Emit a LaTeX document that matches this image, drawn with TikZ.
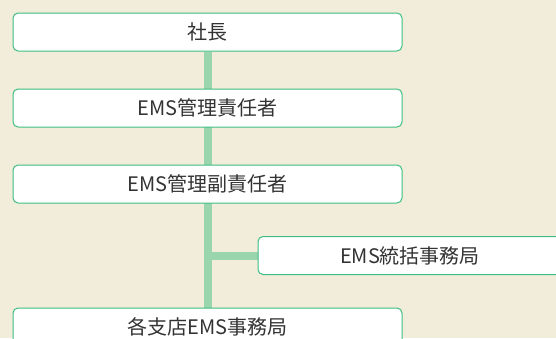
\documentclass[tikz,border=0pt]{standalone}
\usepackage{fontspec}
\setmainfont{Noto Sans CJK JP}
\usetikzlibrary{backgrounds}
\definecolor{bgc}{HTML}{F1EDDA}
\definecolor{linec}{HTML}{9BD5AE}
\definecolor{borderc}{HTML}{3DBE80}
\definecolor{textc}{HTML}{333333}
\tikzset{
  box/.style={draw=borderc, line width=1pt, fill=white, rounded corners=5pt,
    minimum height=38pt, inner sep=0pt, text=textc, font=\fontsize{20pt}{24pt}\selectfont},
  mainbox/.style={box, minimum width=389pt},
  subbox/.style={box, minimum width=304pt},
  conn/.style={draw=linec, line width=8pt}
}
\begin{document}
\begin{tikzpicture}[x=1pt,y=-1pt]
\useasboundingbox (0,0) rectangle (556,338);
\clip (0,0) rectangle (556,338);
\node[mainbox] (b1) at (207.5,32) {社長};
\node[mainbox] (b2) at (207.5,108) {EMS管理責任者};
\node[mainbox] (b3) at (207.5,184) {EMS管理副責任者};
\node[subbox] (b4) at (410,255.5) {EMS統括事務局};
\node[mainbox] (b5) at (207.5,327) {各支店EMS事務局};
\begin{scope}[on background layer]
  \fill[bgc] (0,0) rectangle (556,338);
  \draw[conn] (b1.south) -- (b5.north);
  \draw[conn] (b3.south |- b4.west) -- (b4.west);
\end{scope}
\end{tikzpicture}
\end{document}
